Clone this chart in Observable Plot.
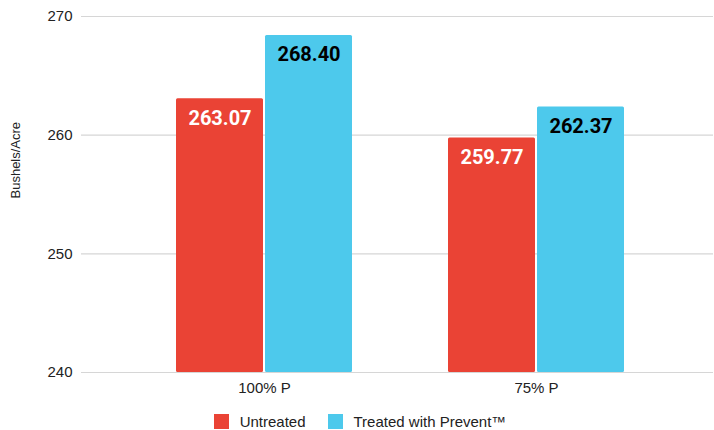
<!DOCTYPE html>
<html>
<head>
<meta charset="utf-8">
<script src="https://cdn.jsdelivr.net/npm/d3@7"></script>
<script src="https://cdn.jsdelivr.net/npm/@observablehq/plot@0.6"></script>
<style>
  html, body { margin: 0; padding: 0; background: #fff; }
  #chart { width: 714px; font-family: "Liberation Sans", Arial, sans-serif; }
  .legend { display: flex; justify-content: center; align-items: center; height: 15px; margin-top: 14px; padding-left: 6px; box-sizing: border-box; font-size: 15px; color: #222; }
  .legend .item { display: flex; align-items: center; margin: 0 11px; }
  .legend .sw { width: 15px; height: 15px; margin-right: 11px; }
</style>
</head>
<body>
<div id="chart"></div>
<script>
const groups = ["100% P", "75% P"];
const series = ["Untreated", "Treated with Prevent™"];
const untreated = [263.07, 259.77];
const treated = [268.40, 262.37];
const yTicks = [240, 250, 260, 270];
const colors = ["#ea4335", "#4dc9ec"];
const labelColors = ["#ffffff", "#000000"];

const rowsU = groups.map((g, i) => ({group: g, series: series[0], value: untreated[i]}));
const rowsT = groups.map((g, i) => ({group: g, series: series[1], value: treated[i]}));

const plot = Plot.plot({
  width: 714,
  height: 400,
  marginTop: 16,
  marginBottom: 28,
  marginLeft: 81,
  marginRight: 1,
  style: {fontFamily: '"Liberation Sans", Arial, sans-serif', fontSize: "15px", color: "#222", display: "block"},
  x: {type: "band", domain: groups, range: [34, 765], padding: 0.6777, label: null, tickSize: 0, tickPadding: 10},
  y: {domain: [240, 270], ticks: yTicks, label: null, tickSize: 0, tickPadding: 9},
  marks: [
    Plot.ruleY(yTicks, {stroke: "#d6d6d6", strokeWidth: 1.2}),
    Plot.barY(rowsU, {x: "group", y1: 240, y2: "value", fill: colors[0], dx: -44, insetRight: 1, rx: 1.5}),
    Plot.barY(rowsT, {x: "group", y1: 240, y2: "value", fill: colors[1], dx: 44, insetLeft: 1, rx: 1.5}),
    Plot.text(rowsU, {x: "group", y: "value", text: d => d.value.toFixed(2), dx: -44.5, dy: 26, lineAnchor: "bottom", fill: labelColors[0], fontSize: 20, fontWeight: "bold", fontFamily: "Roboto"}),
    Plot.text(rowsT, {x: "group", y: "value", text: d => d.value.toFixed(2), dx: 44.5, dy: 26, lineAnchor: "bottom", fill: labelColors[1], fontSize: 20, fontWeight: "bold", fontFamily: "Roboto"}),
    Plot.text(["Bushels/Acre"], {frameAnchor: "left", dx: -66, dy: 4, rotate: -90, fontSize: 13, fill: "#222", fontFamily: '"Liberation Sans", Arial, sans-serif'})
  ]
});

const chart = document.getElementById("chart");
chart.appendChild(plot);
const legend = document.createElement("div");
legend.className = "legend";
series.forEach((s, i) => {
  const item = document.createElement("div");
  item.className = "item";
  const sw = document.createElement("span");
  sw.className = "sw";
  sw.style.background = colors[i];
  const t = document.createElement("span");
  t.textContent = s;
  item.appendChild(sw);
  item.appendChild(t);
  legend.appendChild(item);
});
chart.appendChild(legend);
</script>
</body>
</html>
